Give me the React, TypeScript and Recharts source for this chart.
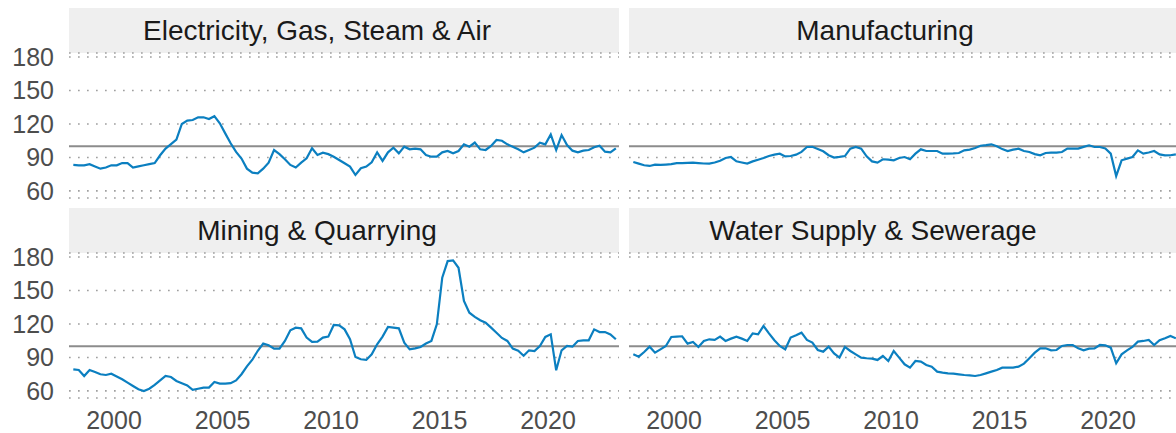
import { LineChart, Line, XAxis, YAxis, CartesianGrid, ReferenceLine } from "recharts";

// quarterly index values, 1998 Q1 .. 2023 Q1 (101 quarters)
const FIRST_QUARTER = 1998.125;

const electricity = [
  83.3, 83, 83, 84, 82, 80, 81, 83, 83, 85, 85, 81, 82, 83, 84, 85, 92, 98, 102, 106,
  120, 123, 123.6, 126, 126, 124.5, 127, 120.6, 111.6, 102.7, 95, 89, 80, 76.4, 75.8, 80, 85.4, 96.7, 93, 88.4,
  83.3, 81, 85.4, 89.3, 98.2, 92.2, 94.3, 93, 90.7, 87.8, 84.8, 81.8, 74.3, 80.3, 81.8, 85.7, 94.6, 86.9, 94.6, 98.8,
  93.7, 99.7, 97.3, 97.9, 97.3, 92.2, 90.7, 90.7, 94.6, 95.8, 93.7, 95.8, 101.8, 99.7, 103.3, 97.3, 96.7, 100.3, 105.7, 105,
  101.8, 99.7, 97.3, 94.6, 96.7, 98.8, 103.3, 101.8, 110.7, 96.7, 110.1, 101.2, 96.1, 94.6, 96.1, 96.7, 99.1, 100.6, 95.2, 94.6,
  98.2,
];

const manufacturing = [
  86, 84.5, 83, 82.4, 83.6, 83.3, 83.6, 84, 85, 85, 85.2, 85.4, 85, 84.6, 84.5, 85.5, 87, 89.5, 90.4, 86.6,
  85.5, 84.5, 86.5, 88, 89.5, 91.3, 92.5, 93.4, 91, 91.3, 92.5, 95, 99.4, 99.6, 97.5, 95.5, 92, 89.9, 90.5, 91.3,
  97.9, 99.4, 97.9, 91, 86.5, 85.4, 88.4, 88, 87.5, 89.5, 90.4, 88.4, 93.4, 97.3, 95.8, 95.8, 95.8, 93.4, 93.4, 93.6,
  94, 96.4, 97, 98.5, 100.5, 101, 101.8, 100, 97.5, 95.8, 97, 97.9, 95.8, 94.9, 93, 91.9, 94, 94.3, 94.3, 94.9,
  97.9, 97.9, 97.9, 99.5, 100.9, 99.4, 99.4, 98, 93.4, 73.4, 87.5, 89, 90.4, 96.4, 93.4, 94.5, 95.8, 92.8, 91.9, 92,
  92.8,
];

const mining = [
  79.4, 78.8, 73.4, 78.8, 77, 75, 74.3, 75.5, 73, 70.5, 67.5, 64.5, 61.5, 60, 62, 65.5, 69.5, 73.4, 72.5, 69,
  67, 65, 61, 62, 63, 63, 68, 66.6, 66.6, 67, 69.5, 75, 82, 88, 96, 102.4, 100.9, 97.9, 97.9, 104.8,
  114.3, 116.7, 116.1, 107.8, 103.9, 104.2, 107.8, 108.7, 119.1, 118.8, 115.2, 106.3, 90.4, 88.4, 87.8, 92.8, 101.8, 108.7, 117.3, 116.7,
  116.1, 103.3, 97.3, 98.2, 99.4, 102.5, 104.8, 119.7, 161.5, 176.4, 177, 170.4, 140.6, 130.1, 126.3, 123.3, 121.2, 116.7, 112.2, 107.5,
  104.8, 98, 96, 91.5, 96.4, 95.8, 100.3, 108.4, 110.7, 78.5, 96.4, 100.3, 99.7, 104.8, 105.4, 105.4, 115.2, 112.8, 112.8, 110.7,
  106.3,
];

const water = [
  92.8, 90.7, 94.9, 99.7, 94.3, 97.3, 100.3, 108.4, 108.7, 109, 102.4, 103.9, 99.4, 104.8, 106.3, 105.7, 108.7, 104.8, 106.9, 108.7,
  106.9, 104.8, 111.6, 110.7, 118.2, 111.6, 105.4, 100.3, 97.3, 107.8, 109.9, 112.2, 105.7, 103.3, 96.7, 95.2, 99.7, 93.7, 89.9, 99.4,
  95.8, 92.8, 89.9, 89.3, 89, 87.8, 91.3, 86.9, 95.8, 89.9, 83.9, 80.9, 86.9, 86.3, 83.3, 81.8, 77.3, 76.4, 75.8, 75.5,
  74.9, 74.3, 74, 73.4, 74.3, 75.8, 77.3, 78.8, 80.9, 80.9, 80.9, 81.8, 84.5, 89.3, 94.3, 98.2, 98.2, 96.4, 96.7, 100.3,
  101.2, 101.2, 98.2, 96.4, 97.9, 98.2, 101.2, 100.9, 98.8, 84.8, 92.8, 96.4, 99.4, 104.2, 104.8, 105.7, 101.2, 105.4, 107.2, 109.3,
  107.2,
];

const yTicks = [60, 90, 120, 150, 180];
const xTicks = [2000, 2005, 2010, 2015, 2020];

const Y_DOMAIN = [53.7, 183.6];
const X_DOMAIN = [1997.926, 2023.27];
const FONT = "'Liberation Sans', Arial, sans-serif";
const LINE_COLOR = "#0b7fc0";

const toRows = (values: number[]) => values.map((v, i) => ({ t: FIRST_QUARTER + i * 0.25, v }));

function Panel({
  title, titleCenter, values, left, top, showY, showX,
}: {
  title: string; titleCenter: number; values: number[]; left: number; top: number; showY: boolean; showX: boolean;
}) {
  const axisW = showY ? 69 : 0;
  const plotW = 550;
  const plotH = 145;
  const pad = 16; // room above/below plot so the 180/60 labels are not clipped
  const axisH = showX ? 35 : 0;
  return (
    <>
      <div
        style={{
          position: "absolute", left: left + axisW, top, width: plotW, height: 45,
          background: "#efefef", overflow: "hidden",
        }}
      >
        <span
          style={{
            position: "absolute", left: titleCenter, top: 22.5, transform: "translate(-50%, -50%)",
            whiteSpace: "nowrap", fontFamily: FONT, fontSize: 28, color: "#1a1a1a",
          }}
        >
          {title}
        </span>
      </div>
      <div style={{ position: "absolute", left, top: top + 45 - pad }}>
        <LineChart
          width={axisW + plotW}
          height={pad + plotH + (showX ? axisH : pad)}
          data={toRows(values)}
          margin={{ top: pad, right: 0, bottom: showX ? 0 : pad, left: 0 }}
        >
          <CartesianGrid vertical={false} stroke="#a0a0a0" strokeWidth={1.7} strokeDasharray="1.7 7.3" />
          <XAxis
            dataKey="t" type="number" domain={X_DOMAIN} ticks={xTicks} allowDataOverflow
            hide={!showX} height={axisH} axisLine={false} tickLine={false} tickSize={0} tickMargin={13}
            tick={{ fontSize: 25, fill: "#4d4d4d", fontFamily: FONT }} interval={0}
          />
          <YAxis
            type="number" domain={Y_DOMAIN} ticks={yTicks} allowDataOverflow
            hide={!showY} width={axisW} axisLine={false} tickLine={false} tickSize={0} tickMargin={15}
            tick={{ fontSize: 25, fill: "#4d4d4d", fontFamily: FONT }} interval={0}
          />
          <ReferenceLine y={100} stroke="#8c8c8c" strokeWidth={2} />
          <Line
            type="linear" dataKey="v" stroke={LINE_COLOR} strokeWidth={2.2}
            dot={false} isAnimationActive={false}
          />
        </LineChart>
      </div>
    </>
  );
}

export default function App() {
  return (
    <div
      style={{
        position: "absolute", left: 0, top: 0, width: 1176, height: 433,
        overflow: "hidden", background: "#fff",
      }}
    >
      <Panel title="Electricity, Gas, Steam & Air" titleCenter={248} values={electricity} left={0} top={8} showY showX={false} />
      <Panel title="Manufacturing" titleCenter={256} values={manufacturing} left={629} top={8} showY={false} showX={false} />
      <Panel title="Mining & Quarrying" titleCenter={248} values={mining} left={0} top={208} showY showX />
      <Panel title="Water Supply & Sewerage" titleCenter={244} values={water} left={629} top={208} showY={false} showX />
    </div>
  );
}
